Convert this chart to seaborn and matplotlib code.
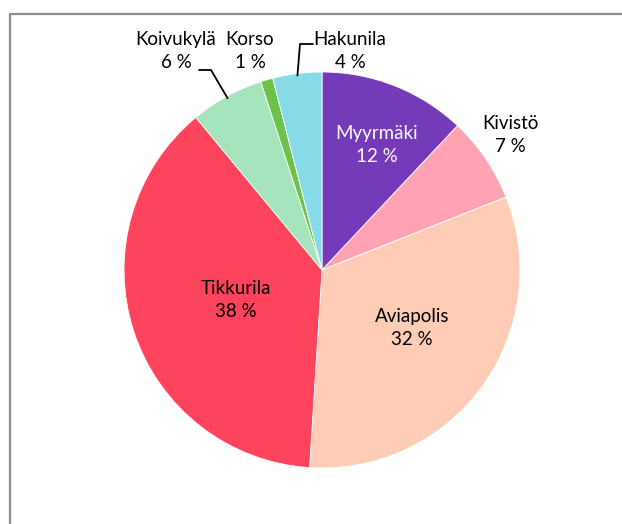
import numpy as np
import matplotlib
matplotlib.use("Agg")
import matplotlib.pyplot as plt
from matplotlib.lines import Line2D
import seaborn as sns

alueet = ["Myyrmäki", "Kivistö", "Aviapolis", "Tikkurila", "Koivukylä", "Korso", "Hakunila"]
osuudet = [12, 7, 32, 38, 6, 1, 4]
varit = ["#743ABA", "#FFA2B4", "#FFCCB6", "#FD445C", "#A6E4BC", "#6CC24A", "#88DAE8"]
tekstivarit = ["white", "black", "black", "black", "black", "black", "black"]

sns.set_theme(style="white")
plt.rcParams["font.family"] = ["Lato", "DejaVu Sans"]

W, H = 622, 524
CX, CY, R = 322, 270, 198

fig = plt.figure(figsize=(W / 100, H / 100), dpi=100)
ax = fig.add_axes([0, 0, 1, 1])

wedges, _ = ax.pie(osuudet, colors=sns.color_palette(varit), startangle=90,
                   counterclock=False, radius=1,
                   wedgeprops=dict(edgecolor="white", linewidth=0.6))

# pie() resets limits, so set them afterwards
ax.set_xlim(-CX / R, (W - CX) / R)
ax.set_ylim(-(H - CY) / R, CY / R)
ax.set_aspect("equal")
ax.axis("off")


def px(x, y):
    return (x - CX) / R, (CY - y) / R


# label placement in pixel coords of the reference (layout only)
tekstipaikat = {
    "Myyrmäki": (377, 145),
    "Kivistö": (510, 135),
    "Aviapolis": (412, 328),
    "Tikkurila": (236, 300),
    "Koivukylä": (176, 51),
    "Korso": (250, 51),
    "Hakunila": (350, 51),
}

for w, nimi, arvo, tv in zip(wedges, alueet, osuudet, tekstivarit):
    tx, ty = px(*tekstipaikat[nimi])
    ax.text(tx, ty, f"{nimi}\n{arvo} %", ha="center", va="center",
            fontsize=13.5, color=tv, linespacing=1.45)


def kulma_piste(w):
    a = np.deg2rad((w.theta1 + w.theta2) / 2)
    return np.cos(a) * 0.99, np.sin(a) * 0.99


# leader lines
k = alueet.index("Koivukylä")
ex, ey = kulma_piste(wedges[k])
x0, y0 = px(199, 70)
x1, y1 = px(211, 70)
ax.add_line(Line2D([x0, x1, ex], [y0, y1, ey], color="black", lw=1.3))

h = alueet.index("Hakunila")
ex, ey = kulma_piste(wedges[h])
x0, y0 = px(313, 44)
x1, y1 = px(300, 44)
ax.add_line(Line2D([x0, x1, ex], [y0, y1, ey], color="black", lw=1.3))

# chart frame (top and left edges visible)
fig.add_artist(Line2D([9.5 / W, 1], [1 - 14 / H, 1 - 14 / H], color="#8c8c8c", lw=1.6,
                      transform=fig.transFigure))
fig.add_artist(Line2D([9.5 / W, 9.5 / W], [0, 1 - 14 / H], color="#8c8c8c", lw=1.6,
                      transform=fig.transFigure))

fig.savefig("out.png", dpi=100, facecolor="white")
